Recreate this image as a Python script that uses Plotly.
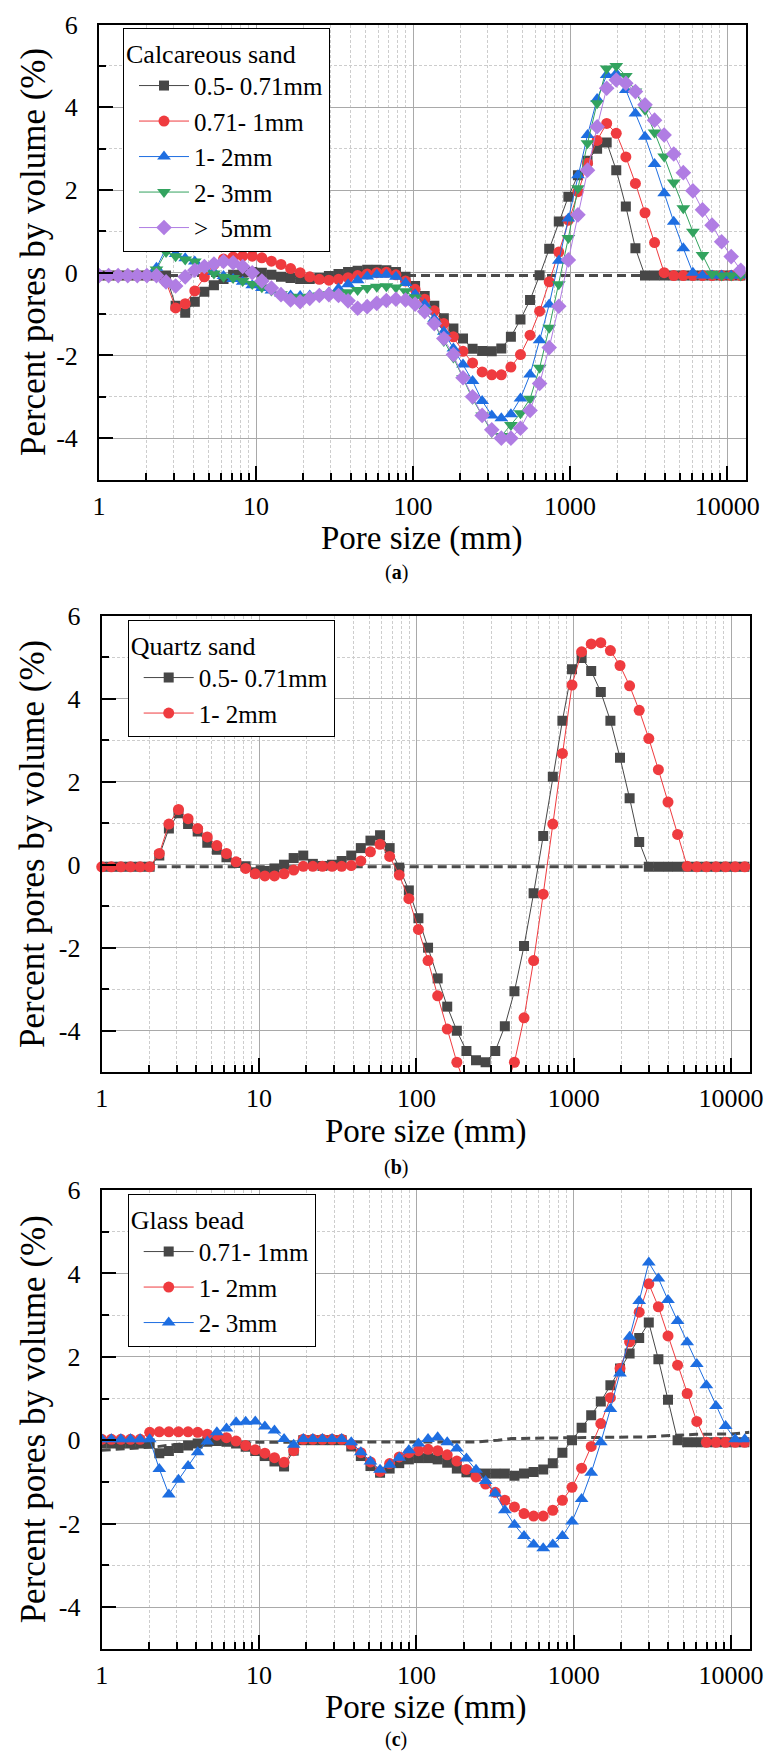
import plotly.graph_objects as go

# ---------------- data ----------------
pore_size = [1.000, 1.151, 1.324, 1.524, 1.754, 2.018, 2.323, 2.673, 3.076, 3.540,
             4.074, 4.688, 5.395, 6.209, 7.145, 8.222, 9.462, 10.89, 12.53, 14.42,
             16.60, 19.10, 21.98, 25.29, 29.11, 33.50, 38.55, 44.36, 51.05, 58.75,
             67.61, 77.80, 89.54, 103.0, 118.6, 136.5, 157.0, 180.7, 208.0, 239.3,
             275.4, 317.0, 364.8, 419.8, 483.1, 555.9, 639.7, 736.2, 847.2, 975.0,
             1122, 1291, 1486, 1710, 1968, 2265, 2606, 2999, 3451, 3972,
             4571, 5260, 6053, 6966, 8017, 9226, 10617, 12218]

# (a) Calcareous sand
calc_05_071 = [-0.07, -0.07, -0.07, -0.07, -0.07, -0.07, -0.07, -0.07,
               -0.8, -0.97, -0.7, -0.46, -0.3, -0.15, -0.05, 0.0, 0.02,
               0.0, -0.05, -0.1, -0.13, -0.15, -0.15, -0.13, -0.08,
               -0.03, 0.02, 0.05, 0.07, 0.07, 0.06, 0.02, -0.1,
               -0.32, -0.56, -0.8, -1.1, -1.35, -1.59, -1.84, -1.89,
               -1.9, -1.83, -1.55, -1.13, -0.66, -0.06, 0.58, 1.24,
               1.84, 2.36, 2.71, 3.0, 3.15, 2.48, 1.6, 0.59,
               -0.07, -0.07, -0.07, -0.07, -0.07, -0.07, -0.07, -0.07, -0.07, -0.07, -0.07]
calc_071_1 = [-0.07, -0.07, -0.07, -0.07, -0.07, -0.07, -0.07,
              -0.22, -0.85, -0.75, -0.44, -0.1, 0.2, 0.33, 0.38,
              0.4, 0.4, 0.36, 0.28, 0.2, 0.1, 0.0, -0.1,
              -0.16, -0.18, -0.16, -0.12, -0.07, -0.03, 0.0, 0.01,
              -0.05, -0.2, -0.4, -0.64, -0.92, -1.23, -1.55, -1.9,
              -2.18, -2.4, -2.47, -2.47, -2.28, -1.98, -1.51, -0.93,
              -0.22, 0.5, 1.27, 1.96, 2.65, 3.2, 3.61, 3.37,
              2.8, 2.16, 1.45, 0.73, 0.0,
              -0.07, -0.07, -0.07, -0.07, -0.07, -0.07, -0.07, -0.07]
calc_1_2 = [-0.07, -0.07, -0.07, -0.07, -0.07, -0.07,
            0.12, 0.6, 0.45, 0.35, 0.27, 0.1, 0.02, -0.08,
            -0.15, -0.22, -0.3, -0.37, -0.43, -0.5, -0.55, -0.56,
            -0.55, -0.52, -0.48, -0.38, -0.28, -0.18, -0.09, -0.05,
            -0.05, -0.1, -0.25, -0.52, -0.76, -1.11, -1.43, -1.83,
            -2.22, -2.62, -3.1, -3.45, -3.52, -3.42, -3.04, -2.46,
            -1.63, -0.77, 0.29, 1.31, 2.36, 3.33, 4.2, 4.78,
            4.82, 4.42, 3.85, 3.29, 2.63, 1.92, 1.23, 0.59, 0.0,
            -0.07, -0.07, -0.07, -0.07, -0.07]
calc_2_3 = [-0.07, -0.07, -0.07, -0.07, -0.07, -0.07,
            0.08, 0.5, 0.4, 0.32, 0.27, 0.12, -0.02, -0.1,
            -0.13, -0.2, -0.27, -0.35, -0.43, -0.52, -0.58, -0.6,
            -0.58, -0.55, -0.52, -0.5, -0.47, -0.42, -0.37, -0.34,
            -0.33, -0.36, -0.45, -0.6, -0.9, -1.25, -1.65, -2.05,
            -2.55, -3.05, -3.45, -3.85, -3.95, -3.68, -3.4, -3.05,
            -2.3, -1.33, -0.28, 0.84, 2.04, 3.13, 4.1, 4.94,
            5.0, 4.76, 4.38, 3.94, 3.39, 2.81, 2.18, 1.56,
            0.99, 0.43, -0.03,
            -0.07, -0.07, -0.07]
calc_gt5 = [-0.07, -0.07, -0.07, -0.07, -0.07, -0.07, -0.07,
            -0.22, -0.32, -0.1, 0.06, 0.15, 0.21, 0.27, 0.24,
            0.15, 0.0, -0.2, -0.37, -0.53, -0.66, -0.7, -0.62,
            -0.55, -0.53, -0.55, -0.68, -0.86, -0.82, -0.74, -0.67,
            -0.64, -0.66, -0.76, -0.94, -1.23, -1.59, -1.98, -2.54,
            -3.0, -3.45, -3.8, -4.0, -4.0, -3.76, -3.33, -2.68,
            -1.81, -0.81, 0.31, 1.4, 2.48, 3.53, 4.46, 4.66,
            4.58, 4.38, 4.06, 3.69, 3.33, 2.87, 2.42, 1.98,
            1.52, 1.15, 0.75, 0.39, 0.06]

# (b) Quartz sand
quartz_05_071 = [-0.05, -0.05, -0.05, -0.05, -0.05, -0.05,
                 0.22, 0.87, 1.24, 0.98, 0.8, 0.53, 0.36, 0.18,
                 0.04, -0.04, -0.18, -0.15, -0.09, 0.0, 0.16, 0.22,
                 0.02, -0.03, 0.0, 0.09, 0.22, 0.4, 0.58, 0.71,
                 0.4, -0.07, -0.62, -1.29, -2.0, -2.74, -3.42, -4.0,
                 -4.49, -4.71, -4.76, -4.49, -3.89, -3.05, -1.96, -0.69,
                 0.69, 2.12, 3.47, 4.71, 4.98, 4.67, 4.16, 3.47,
                 2.58, 1.6, 0.55,
                 -0.05, -0.05, -0.05, -0.05, -0.05, -0.05, -0.05, -0.05, -0.05, -0.05, -0.05]
quartz_1_2 = [-0.05, -0.05, -0.05, -0.05, -0.05, -0.05,
              0.27, 0.98, 1.33, 1.11, 0.87, 0.67, 0.46, 0.27,
              0.07, -0.09, -0.22, -0.27, -0.27, -0.22, -0.13, -0.04,
              -0.04, -0.04, -0.04, -0.04, -0.02, 0.09, 0.31, 0.49,
              0.2, -0.25, -0.82, -1.56, -2.31, -3.16, -3.96, -4.76,
              -5.4, -5.75, -5.9, -5.8, -5.45, -4.76, -3.69, -2.31,
              -0.71, 0.98, 2.68, 4.33, 5.13, 5.32, 5.35, 5.16,
              4.8, 4.31, 3.72, 3.04, 2.29, 1.51, 0.73, -0.04,
              -0.05, -0.05, -0.05, -0.05, -0.05, -0.05]

# (c) Glass bead
glass_071_1 = [-0.08, -0.08, -0.08, -0.08, -0.08, -0.08,
               -0.31, -0.26, -0.19, -0.13, -0.08, -0.04, -0.02, -0.04,
               -0.08, -0.16, -0.26, -0.38, -0.51, -0.63, -0.25, 0.0,
               0.0, 0.0, 0.0, 0.0, -0.15, -0.38, -0.62, -0.78,
               -0.68, -0.55, -0.46, -0.43, -0.43, -0.46, -0.54, -0.68,
               -0.77, -0.8, -0.8, -0.8, -0.8, -0.85, -0.8, -0.76,
               -0.7, -0.55, -0.3, 0.0, 0.3, 0.6, 0.93, 1.32,
               1.72, 2.08, 2.45, 2.82, 1.94, 0.97, 0.0,
               -0.05, -0.05, -0.05, -0.05, -0.05, -0.05, -0.05]
glass_1_2 = [0.02, 0.02, 0.02, 0.02, 0.02,
             0.19, 0.2, 0.2, 0.2, 0.2, 0.19, 0.14, 0.12,
             0.06, -0.02, -0.13, -0.23, -0.31, -0.42, -0.53, -0.25,
             0.02, 0.02, 0.02, 0.02, 0.02, -0.1, -0.3, -0.52,
             -0.75, -0.56, -0.4, -0.3, -0.25, -0.22, -0.25, -0.35,
             -0.5, -0.7, -0.88, -1.05, -1.25, -1.44, -1.6, -1.76,
             -1.82, -1.82, -1.68, -1.44, -1.13, -0.67, -0.15, 0.4,
             1.02, 1.72, 2.36, 3.07, 3.75, 3.2, 2.5, 1.8,
             1.12, 0.45, -0.05,
             -0.05, -0.05, -0.05, -0.05]
glass_2_3 = [0.02, 0.02, 0.02, 0.02, 0.02, 0.02,
             -0.69, -1.3, -0.95, -0.62, -0.29, -0.03, 0.19, 0.28,
             0.43, 0.44, 0.45, 0.33, 0.23, 0.03, -0.11, 0.03,
             0.03, 0.03, 0.03, 0.03, -0.05, -0.29, -0.51, -0.71,
             -0.59, -0.42, -0.24, -0.08, 0.03, 0.07, -0.05, -0.2,
             -0.44, -0.71, -0.98, -1.28, -1.68, -2.03, -2.3, -2.5,
             -2.59, -2.5, -2.3, -1.95, -1.41, -0.78, -0.05, 0.75,
             1.6, 2.48, 3.34, 4.26, 3.88, 3.36, 2.86, 2.35,
             1.83, 1.32, 0.82, 0.34, 0.02, 0.02]

# dashed reference curves
reference_x = [1, 13100]
calc_reference = [-0.07, -0.07]
quartz_reference = [-0.05, -0.05]
glass_reference_x = [1, 1.5, 2.2, 3, 4, 6, 10, 30, 100, 250, 330, 400, 1000, 3000, 4500, 6000, 10000, 13100]
glass_reference = [-0.24, -0.19, -0.16, -0.1, -0.06, -0.05, -0.05, -0.05, -0.05, -0.04, 0.0, 0.04,
                   0.06, 0.08, 0.12, 0.14, 0.15, 0.19]

x_tick_vals = [1, 10, 100, 1000, 10000]
x_tick_text = ["1", "10", "100", "1000", "10000"]
y_tick_vals = [-4, -2, 0, 2, 4, 6]
y_tick_text = ["-4", "-2", "0", "2", "4", "6"]

# ---------------- style / layout ----------------
W, H = 768, 1751
FONT = "Liberation Serif"
BLACK, RED, BLUE, GREEN, PURPLE = "#474747", "#ef3b3f", "#1e6ee1", "#33a35f", "#b07de3"
DASHED = "#4a4a4a"

panels = [
    dict(left=99.0, right=745.5, top=24.6, bottom=479.5, legend_xy=(123, 28),
         title="Calcareous sand", caption="(<b>a</b>)", cap_y=572,
         ref=(reference_x, calc_reference),
         series=[(calc_05_071, "0.5- 0.71mm", BLACK, "square", 10),
                 (calc_071_1, "0.71- 1mm", RED, "circle", 11),
                 (calc_1_2, "1- 2mm", BLUE, "triangle-up", 12),
                 (calc_2_3, "2- 3mm", GREEN, "triangle-down", 12),
                 (calc_gt5, ">\u00a0 5mm", PURPLE, "diamond", 12)]),
    dict(left=101.7, right=749.5, top=615.7, bottom=1072.2, legend_xy=(127.7, 620),
         title="Quartz sand", caption="(<b>b</b>)", cap_y=1167,
         ref=(reference_x, quartz_reference),
         series=[(quartz_05_071, "0.5- 0.71mm", BLACK, "square", 10),
                 (quartz_1_2, "1- 2mm", RED, "circle", 11)]),
    dict(left=101.7, right=749.5, top=1190.0, bottom=1648.7, legend_xy=(127.7, 1194),
         title="Glass bead", caption="(<b>c</b>)", cap_y=1739,
         ref=(glass_reference_x, glass_reference),
         series=[(glass_071_1, "0.71- 1mm", BLACK, "square", 10),
                 (glass_1_2, "1- 2mm", RED, "circle", 11),
                 (glass_2_3, "2- 3mm", BLUE, "triangle-up", 12)]),
]

minor_x = [m * d for d in (1, 10, 100, 1000) for m in range(2, 10)]
minor_y = [-3, -1, 1, 3, 5]

fig = go.Figure()
layout = dict(width=W, height=H, margin=dict(l=0, r=0, t=0, b=0, autoexpand=False),
              paper_bgcolor="white", plot_bgcolor="white", showlegend=True,
              font=dict(family=FONT, color="black"))
annotations = []

for i, p in enumerate(panels):
    sfx = "" if i == 0 else str(i + 1)
    xa, ya = "x" + sfx, "y" + sfx
    leg = "legend" + sfx

    fig.add_trace(go.Scatter(x=p["ref"][0], y=p["ref"][1], mode="lines",
                             line=dict(color=DASHED, width=3, dash="9px,5px"),
                             xaxis=xa, yaxis=ya, showlegend=False, hoverinfo="skip"))
    for vals, name, color, sym, size in p["series"]:
        fig.add_trace(go.Scatter(
            x=pore_size, y=vals, mode="lines+markers", name=name,
            line=dict(color=color, width=1),
            marker=dict(symbol=sym, size=size, color=color, line=dict(width=0)),
            xaxis=xa, yaxis=ya, legend=leg,
            cliponaxis=not (i == 1 and color == RED)))

    axis_common = dict(showline=True, linecolor="black", linewidth=2, mirror=True,
                       ticks="inside", tickcolor="black", tickwidth=1.5, ticklen=14,
                       showgrid=True, gridcolor="#a9a9a9", gridwidth=1, zeroline=False,
                       automargin=False,
                       tickfont=dict(family=FONT, size=26, color="black"))
    layout["xaxis" + sfx] = dict(
        axis_common, type="log", range=[0, 4.117], anchor=ya,
        domain=[p["left"] / W, p["right"] / W],
        tickmode="array", tickvals=x_tick_vals, ticktext=x_tick_text,
        ticklabelstandoff=2,
        minor=dict(tickmode="array", tickvals=minor_x, ticks="inside", ticklen=7,
                   tickwidth=1.5, tickcolor="black", showgrid=True,
                   gridcolor="#cdcdcd", gridwidth=1, griddash="3px,2px"))
    layout["yaxis" + sfx] = dict(
        axis_common, range=[-5, 6], anchor=xa,
        domain=[1 - p["bottom"] / H, 1 - p["top"] / H],
        tickmode="array", tickvals=y_tick_vals, ticktext=y_tick_text,
        ticklabelstandoff=14,
        minor=dict(tickmode="array", tickvals=minor_y, ticks="inside", ticklen=7,
                   tickwidth=1.5, tickcolor="black", showgrid=True,
                   gridcolor="#cdcdcd", gridwidth=1, griddash="3px,2px"))
    layout[leg] = dict(
        x=p["legend_xy"][0] / W, y=1 - p["legend_xy"][1] / H,
        xanchor="left", yanchor="top", bgcolor="white",
        bordercolor="black", borderwidth=1,
        font=dict(family=FONT, size=25, color="black"),
        title=dict(text=p["title"], font=dict(family=FONT, size=26, color="black")),
        itemwidth=50, indentation=10, tracegroupgap=0)

    cx = (p["left"] + p["right"]) / 2
    annotations.append(dict(text="Pore size (mm)", x=cx / W, y=1 - (p["bottom"] + 59) / H,
                            xref="paper", yref="paper", showarrow=False,
                            xanchor="center", yanchor="middle", borderpad=0,
                            font=dict(family=FONT, size=33, color="black")))
    annotations.append(dict(text="Percent pores by volume (%)", x=33 / W,
                            y=1 - (p["top"] + p["bottom"]) / 2 / H,
                            xref="paper", yref="paper", showarrow=False, textangle=-90,
                            xanchor="center", yanchor="middle",
                            font=dict(family=FONT, size=35, color="black")))
    annotations.append(dict(text=p["caption"], x=396 / W, y=1 - p["cap_y"] / H,
                            xref="paper", yref="paper", showarrow=False,
                            xanchor="center", yanchor="middle", borderpad=0,
                            font=dict(family=FONT, size=20, color="black")))

layout["annotations"] = annotations
fig.update_layout(**layout)
fig.write_html("out.html",
               config={"displayModeBar": False},
               post_script="document.body.style.margin='0px';"
                           "document.body.style.padding='0px';"
                           "document.documentElement.style.overflow='hidden';")
